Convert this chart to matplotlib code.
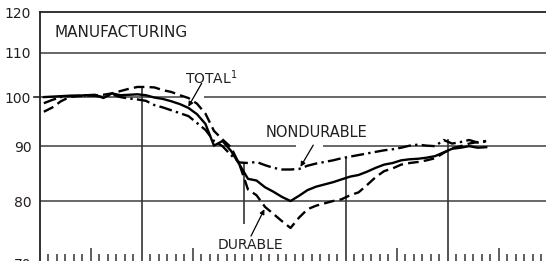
import numpy as np
import matplotlib
matplotlib.use('Agg')
import matplotlib.pyplot as plt
from matplotlib.ticker import FixedLocator, NullFormatter

# monthly index values (mid-month)
total = [100.0, 100.1, 100.2, 100.3, 100.3, 100.4, 100.5, 99.8, 100.8, 100.4,
         100.5, 100.6, 100.4, 99.9, 99.6, 99.1, 98.5, 97.7, 96.4, 94.4,
         90.1, 91.0, 89.1, 86.5, 83.9, 83.6, 82.4, 81.6, 80.7, 80.0,
         80.9, 81.9, 82.5, 82.9, 83.3, 83.8, 84.3, 84.6, 85.2, 85.9,
         86.5, 86.8, 87.3, 87.5, 87.6, 87.8, 88.1, 88.8, 89.5, 89.7,
         90.0, 89.7, 89.8]
durable = [96.9, 97.8, 99.1, 100.0, 100.2, 100.3, 100.4, 100.5, 100.8, 101.3,
           101.8, 102.2, 102.2, 102.1, 101.5, 101.1, 100.4, 99.8, 98.6, 96.5,
           93.0, 91.3, 89.8, 86.5, 82.0, 81.0, 79.0, 77.8, 76.6, 75.5,
           77.2, 78.6, 79.2, 79.6, 80.0, 80.3, 81.0, 81.5, 82.8, 84.2,
           85.3, 85.8, 86.5, 86.8, 87.0, 87.3, 87.7, 88.7, 89.6, 90.0,
           90.5, 90.8, 91.0]
nondurable = [98.7, 99.4, 100.0, 100.2, 100.3, 100.4, 100.3, 100.0, 100.6, 100.0,
              99.7, 99.5, 99.2, 98.3, 97.8, 97.2, 96.6, 96.0, 94.6, 93.2,
              91.0, 90.0, 88.3, 86.9, 86.8, 87.0, 86.4, 85.9, 85.6, 85.6,
              85.7, 86.3, 86.7, 87.0, 87.3, 87.7, 88.0, 88.3, 88.6, 88.9,
              89.2, 89.4, 89.7, 90.1, 90.3, 90.1, 90.0, 91.2, 90.5, 90.8,
              91.2, 90.7, 90.9]
months = np.arange(len(total)) + 0.5

y_ticks = [70, 80, 90, 100, 110, 120]

# vertical markers: (month, top value, bottom value)
markers = [(12, 102.4, 70), (24, 86.8, 76.1), (36, 87.9, 70), (48, 91.3, 70)]

grid_col = '#4d4d4d'
txt_col = '#231f20'

fig = plt.figure(figsize=(5.46, 2.61), dpi=100)
ax = fig.add_axes([0.0725, -0.0084, 0.9348, 0.9617])
ax.set_yscale('log')
ax.set_xlim(0, 60)
ax.set_ylim(70, 120)

for s in ['right', 'bottom']:
    ax.spines[s].set_visible(False)
for s in ['left', 'top']:
    ax.spines[s].set_color('#222222')
    ax.spines[s].set_linewidth(1.3)

ax.yaxis.set_major_locator(FixedLocator(y_ticks))
ax.yaxis.set_minor_locator(FixedLocator([]))
ax.set_yticklabels([str(v) for v in y_ticks])
ax.yaxis.set_minor_formatter(NullFormatter())
ax.tick_params(axis='y', length=0, pad=6, labelsize=10, labelcolor=txt_col)

ax.xaxis.set_major_locator(FixedLocator([6, 18, 42, 54]))
ax.xaxis.set_minor_locator(FixedLocator([m for m in range(1, 60) if m % 6 != 0 or m in (24, 30)]))
ax.xaxis.set_major_formatter(NullFormatter())
ax.tick_params(axis='x', which='major', direction='in', length=10.7, width=1.1, color='#333333')
ax.tick_params(axis='x', which='minor', direction='in', length=6.4, width=1.1, color='#333333')

# horizontal rules (some broken for the labels' pointers)
ax.hlines([110, 80], 0, 60, color=grid_col, lw=1.2, zorder=1)
ax.hlines([100, 100], [0, 19.3], [16.9, 60], color=grid_col, lw=1.2, zorder=1)
ax.hlines([90, 90], [0, 33.3], [30.1, 60], color=grid_col, lw=1.2, zorder=1)
ax.plot([-0.6, 0], [100, 100], color='#222222', lw=1.2, clip_on=False)

for m, top, bot in markers:
    ax.vlines(m, bot, top, color='#333333', lw=1.2, zorder=1)

ax.plot(months, total, color='black', lw=1.7, solid_joinstyle='round', zorder=3)
ax.plot(months, durable, color='black', lw=1.7, ls=(0, (4.5, 2.2)), zorder=3)
ax.plot(months, nondurable, color='black', lw=1.7, ls=(0, (5.5, 1.8, 1.0, 1.8)), zorder=3)

ax.text(1.81, 114.8, 'MANUFACTURING', fontsize=11, color=txt_col, ha='left', va='center')
ax.text(17.09, 104.2, 'TOTAL$^{1}$', fontsize=10, color=txt_col, ha='left', va='center')
ax.text(26.6, 92.6, 'NONDURABLE', fontsize=10.5, color=txt_col, ha='left', va='center')
ax.text(20.97, 72.8, 'DURABLE', fontsize=10, color=txt_col, ha='left', va='center')

arrow = dict(arrowstyle='-|>', lw=0.9, color='black', mutation_scale=7, shrinkA=0, shrinkB=0)
ax.annotate('', xy=(17.48, 97.96), xytext=(19.05, 103.0), arrowprops=arrow)
ax.annotate('', xy=(30.67, 86.1), xytext=(32.17, 90.2), arrowprops=arrow)
ax.annotate('', xy=(26.43, 78.6), xytext=(24.85, 74.2), arrowprops=arrow)

fig.savefig('out.png', dpi=100)
